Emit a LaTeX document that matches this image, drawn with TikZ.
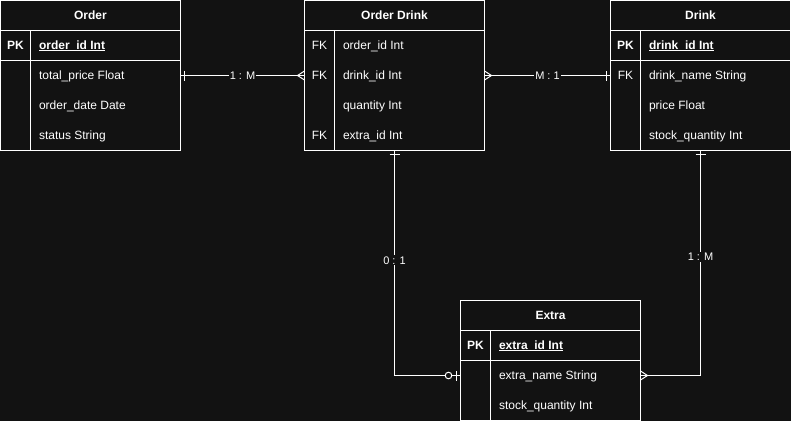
\documentclass[tikz,border=0pt]{standalone}
\usepackage{fontspec}
\setmainfont{Liberation Sans}
\usetikzlibrary{positioning,decorations.markings}
\definecolor{bgdark}{HTML}{121212}
\newcommand\pkname[1]{\setbox0\hbox{#1}\rlap{\rule[-1.6pt]{\wd0}{1pt}}\box0}

\begin{document}
\begin{tikzpicture}[x=1pt, y=-1pt, line width=1pt, white,
  tbl/.style={draw=white, anchor=north west, minimum width=180pt, inner sep=0pt, outer sep=0pt},
  title/.style={font=\fontsize{12}{14}\selectfont\bfseries, text height=8.6pt, text depth=0pt, inner sep=0pt},
  key/.style={font=\fontsize{12}{14}\selectfont, text height=8.6pt, text depth=0pt, inner sep=0pt},
  field/.style={anchor=west, font=\fontsize{12}{14}\selectfont, text height=8.6pt, text depth=0pt, inner xsep=8pt, inner ysep=0pt},
  rel/.style={draw=white},
  card/.style={font=\fontsize{11}{13}\selectfont, fill=bgdark, inner sep=1pt, text height=8pt, text depth=0pt},
  one start/.style={postaction={decorate, decoration={markings, mark=at position 4pt with {\draw[white] (0pt,-5pt) -- (0pt,5pt);}}}},
  one end/.style={postaction={decorate, decoration={markings, mark=at position -4pt with {\draw[white] (0pt,-5pt) -- (0pt,5pt);}}}},
  many start/.style={postaction={decorate, decoration={markings, mark=at position 0.01pt with {\draw[white] (0pt,4.5pt) -- (7pt,0pt) -- (0pt,-4.5pt);}}}},
  many end/.style={postaction={decorate, decoration={markings, mark=at position -0.01pt with {\draw[white] (0pt,4.5pt) -- (-7pt,0pt) -- (0pt,-4.5pt);}}}},
  zero one end/.style={postaction={decorate, decoration={markings, mark=at position -0.01pt with {\draw[white, fill=bgdark] (-12pt,0pt) circle (3.3pt); \draw[white] (-4pt,-5pt) -- (-4pt,5pt);}}}}
]
\fill[bgdark] (0,0) rectangle (791,421);
\useasboundingbox (0,0) rectangle (791,421);

% Order
\node[tbl, minimum height=150pt] (order) at (0.5,0.5) {};
\draw (0.5,30.5) -- (180.5,30.5) (0.5,60.5) -- (180.5,60.5) (30.5,30.5) -- (30.5,150.5);
\node[title] (order-t) at (90.5,15.5) {Order};
\node[key] (order-k1) at (15.5,45.5) {\bfseries PK};
\node[field] (order-f1) at (30.5,45.5) {\bfseries\pkname{order\_id Int}};
\node[field] (order-f2) at (30.5,75.5) {total\_price Float};
\node[field] (order-f3) at (30.5,105.5) {order\_date Date};
\node[field] (order-f4) at (30.5,135.5) {status String};

% Order Drink
\node[tbl, minimum height=150pt] (odrink) at (304.5,0.5) {};
\draw (304.5,30.5) -- (484.5,30.5) (334.5,30.5) -- (334.5,150.5);
\node[title] (odrink-t) at (394.5,15.5) {Order Drink};
\node[key] (odrink-k1) at (319.5,45.5) {FK};
\node[key] (odrink-k2) at (319.5,75.5) {FK};
\node[key] (odrink-k4) at (319.5,135.5) {FK};
\node[field] (odrink-f1) at (334.5,45.5) {order\_id Int};
\node[field] (odrink-f2) at (334.5,75.5) {drink\_id Int};
\node[field] (odrink-f3) at (334.5,105.5) {quantity Int};
\node[field] (odrink-f4) at (334.5,135.5) {extra\_id Int};

% Drink
\node[tbl, minimum height=150pt] (drink) at (610.5,0.5) {};
\draw (610.5,30.5) -- (790.5,30.5) (610.5,60.5) -- (790.5,60.5) (640.5,30.5) -- (640.5,150.5);
\node[title] (drink-t) at (700.5,15.5) {Drink};
\node[key] (drink-k1) at (625.5,45.5) {\bfseries PK};
\node[key] (drink-k2) at (625.5,75.5) {FK};
\node[field] (drink-f1) at (640.5,45.5) {\bfseries\pkname{drink\_id Int}};
\node[field] (drink-f2) at (640.5,75.5) {drink\_name String};
\node[field] (drink-f3) at (640.5,105.5) {price Float};
\node[field] (drink-f4) at (640.5,135.5) {stock\_quantity Int};

% Extra
\node[tbl, minimum height=120pt] (extra) at (460.5,300.5) {};
\draw (460.5,330.5) -- (640.5,330.5) (460.5,360.5) -- (640.5,360.5) (490.5,330.5) -- (490.5,420.5);
\node[title] (extra-t) at (550.5,315.5) {Extra};
\node[key] (extra-k1) at (475.5,345.5) {\bfseries PK};
\node[field] (extra-f1) at (490.5,345.5) {\bfseries\pkname{extra\_id Int}};
\node[field] (extra-f2) at (490.5,375.5) {extra\_name String};
\node[field] (extra-f3) at (490.5,405.5) {stock\_quantity Int};

% relations
\draw[rel, one start, many end] (order.east |- order-f2) -- node[card] {1 : M} (odrink.west |- odrink-f2);
\draw[rel, many start, one end] (odrink.east |- odrink-f2) -- node[card] {M : 1} (drink.west |- drink-f2);
\draw[rel, one start, zero one end] (odrink.south) |- node[card, pos=0.244] {0 : 1} (extra.west |- extra-f2);
\draw[rel, one start, many end] (drink.south) |- node[card, pos=0.236] {1 : M} (extra.east |- extra-f2);
\end{tikzpicture}
\end{document}
